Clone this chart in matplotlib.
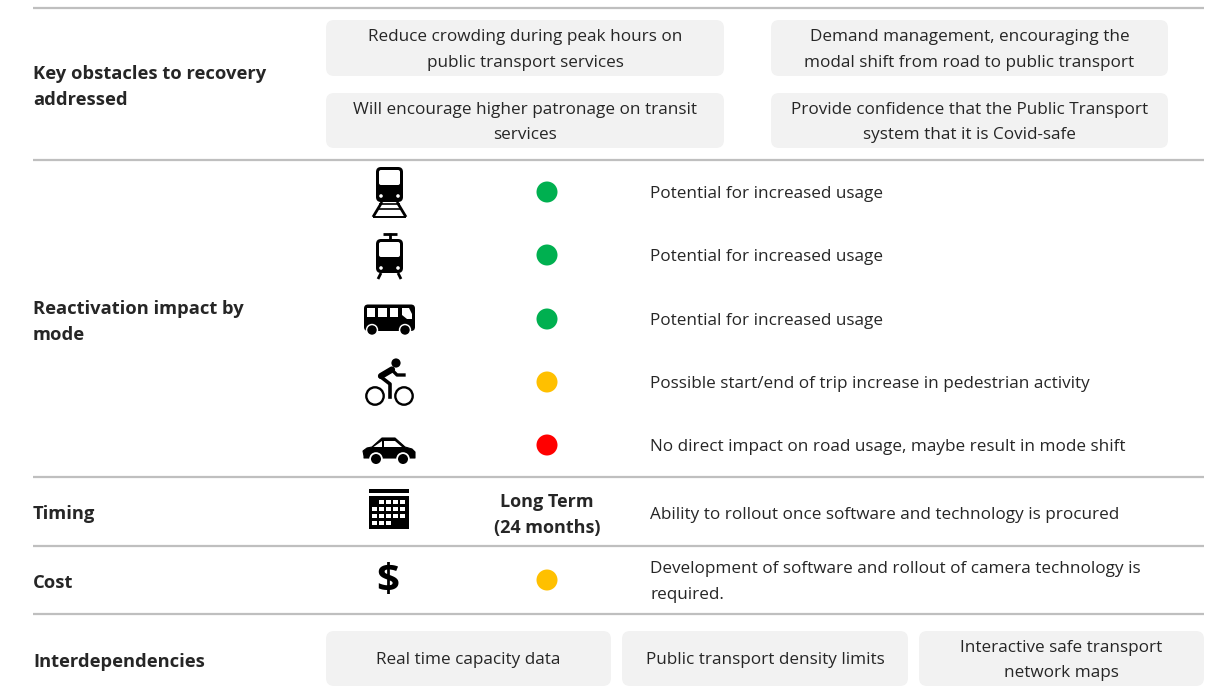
import matplotlib
matplotlib.use('Agg')
import matplotlib.pyplot as plt
from matplotlib.patches import FancyBboxPatch, Rectangle, Circle, Polygon

W, H = 1211, 700
rules_y = [8, 160, 477, 546, 614]
section_labels = ['Key obstacles to recovery\naddressed', 'Reactivation impact by\nmode', 'Timing', 'Cost', 'Interdependencies']
section_y = [87, 322, 514, 583, 662]
obstacles = ['Reduce crowding during peak hours on\npublic transport services',
             'Demand management, encouraging the\nmodal shift from road to public transport',
             'Will encourage higher patronage on transit\nservices',
             'Provide confidence that the Public Transport\nsystem that it is Covid-safe']
obstacle_boxes = [(326, 20, 398, 56), (771, 20, 397, 56), (326, 93, 398, 55), (771, 93, 397, 55)]
mode_y = [192, 255, 319, 382, 445]
mode_colors = ['#00B050', '#00B050', '#00B050', '#FFC000', '#FF0000']
mode_text = ['Potential for increased usage', 'Potential for increased usage', 'Potential for increased usage',
             'Possible start/end of trip increase in pedestrian activity',
             'No direct impact on road usage, maybe result in mode shift']
timing_label = 'Long Term\n(24 months)'
timing_text = 'Ability to rollout once software and technology is procured'
cost_color = '#FFC000'
cost_text = 'Development of software and rollout of camera technology is\nrequired.'
dep_labels = ['Real time capacity data', 'Public transport density limits', 'Interactive safe transport\nnetwork maps']
dep_boxes = [(326, 631, 285, 55), (622, 631, 286, 55), (919, 631, 285, 55)]

plt.rcParams['font.family'] = ['Open Sans', 'DejaVu Sans']
fig = plt.figure(figsize=(W/100, H/100), dpi=100)
ax = fig.add_axes([0, 0, 1, 1])
ax.set_xlim(0, W); ax.set_ylim(H, 0); ax.axis('off')
TC = '#262626'
FS = 12.35
LS = 1.83

for y in rules_y:
    ax.plot([33, 1204], [y, y], color='#BFBFBF', lw=1.6, solid_capstyle='butt')
for s, y in zip(section_labels, section_y):
    ax.text(33, y, s, fontsize=13.2, fontweight='bold', color=TC, va='center', ha='left', linespacing=1.55)

def box(b, t):
    x, y, w, h = b
    ax.add_patch(FancyBboxPatch((x+8, y+8), w-16, h-16, boxstyle='round,pad=8,rounding_size=8', fc='#F2F2F2', ec='none'))
    ax.text(x+w/2, y+h/2+2, t, fontsize=FS, color=TC, ha='center', va='center', linespacing=LS)
for b, t in zip(obstacle_boxes, obstacles): box(b, t)
for b, t in zip(dep_boxes, dep_labels): box(b, t)

for y, c, t in zip(mode_y, mode_colors, mode_text):
    ax.add_patch(Circle((547, y), 10.5, fc=c, ec='none'))
    ax.text(650, y+2, t, fontsize=FS, color=TC, va='center')
ax.add_patch(Circle((547, 580), 10.5, fc=cost_color, ec='none'))
ax.text(547, 515, timing_label, fontsize=13.0, fontweight='bold', color=TC, ha='center', va='center', linespacing=1.55)
ax.text(650, 515, timing_text, fontsize=FS, color=TC, va='center')
ax.text(650, 582, cost_text, fontsize=FS, color=TC, va='center', linespacing=LS)

K = 'black'
def rr(x, y, w, h, r=3, c=K):
    ax.add_patch(FancyBboxPatch((x+r, y+r), w-2*r, h-2*r, boxstyle=f'round,pad={r},rounding_size={r}', fc=c, ec='none'))
def rect(x, y, w, h, c=K):
    ax.add_patch(Rectangle((x, y), w, h, fc=c, ec='none'))
def line(p, q, lw=2):
    ax.plot([p[0], q[0]], [p[1], q[1]], color=K, lw=lw, solid_capstyle='butt')
def dot(x, y, r, c='white'):
    ax.add_patch(Circle((x, y), r, fc=c, ec='none'))

# train
rr(376, 167, 27, 35, 5)
rr(379, 170, 21, 15, 2, 'white')
dot(381, 196, 1.8); dot(398, 196, 1.8)
line((382, 202), (373, 217)); line((397, 202), (406, 217))
line((379, 204), (400, 204), 1.2); line((377, 209), (402, 209), 1.2); line((373, 216.5), (406, 216.5), 1.4)
# tram
line((390, 233), (390, 240), 2); line((383, 233.5), (397, 233.5), 2)
rr(376, 239, 27, 34, 5)
rr(379, 242, 21, 15, 2, 'white')
dot(381, 268, 1.8); dot(398, 268, 1.8)
line((381, 273), (378, 279)); line((398, 273), (401, 279))
# bus
rr(364, 304.5, 51, 26.5, 4)
for x, w in ((366.5, 8.5), (378, 9), (390, 8)): rect(x, 308, w, 9, 'white')
ax.add_patch(Polygon([(402, 308), (409, 308), (412, 314), (412, 319), (407, 319), (402, 315)], fc='white', ec='none'))
for cx in (372, 405):
    dot(cx, 330, 6.2); dot(cx, 330, 4.7, K)
# bicycle
for cx in (375, 404):
    ax.add_patch(Circle((cx, 396), 8.7, fc='none', ec=K, lw=1.7))
dot(396, 363, 4.6, K)
ax.plot([392, 381], [369.5, 376], color=K, lw=4.5, solid_capstyle='round')
ax.plot([381, 390, 390], [377, 384, 397], color=K, lw=2.6, solid_joinstyle='round')
ax.plot([392, 397, 404], [370, 375, 375], color=K, lw=2.4, solid_joinstyle='round')
# car
ax.add_patch(Polygon([(364, 456), (363, 451), (367, 448), (372, 447), (382, 438), (395, 438), (405, 447), (412, 449), (415, 452), (415, 458), (364, 458)],
                     fc=K, ec=K, lw=0.8, joinstyle='round'))
ax.add_patch(Polygon([(373.5, 447), (382, 441), (382, 447)], fc='white', ec='none'))
ax.add_patch(Polygon([(384, 441), (395, 441), (402, 447), (384, 447)], fc='white', ec='none'))
for cx in (376, 403):
    dot(cx, 459, 6.8); dot(cx, 459, 5, K)
# calendar
rect(369, 489, 39.5, 4)
rect(369, 496, 39.5, 33)
for j in range(4):
    for i in range(5):
        if (j == 0 and i == 0) or (j == 3 and i > 2):
            continue
        rect(372 + i*7, 499.5 + j*7, 4.8, 4.8, 'white')
# dollar
ax.text(388, 581, '$', fontsize=29, fontweight='bold', color=K, ha='center', va='center')

fig.savefig('out.png', dpi=100)
